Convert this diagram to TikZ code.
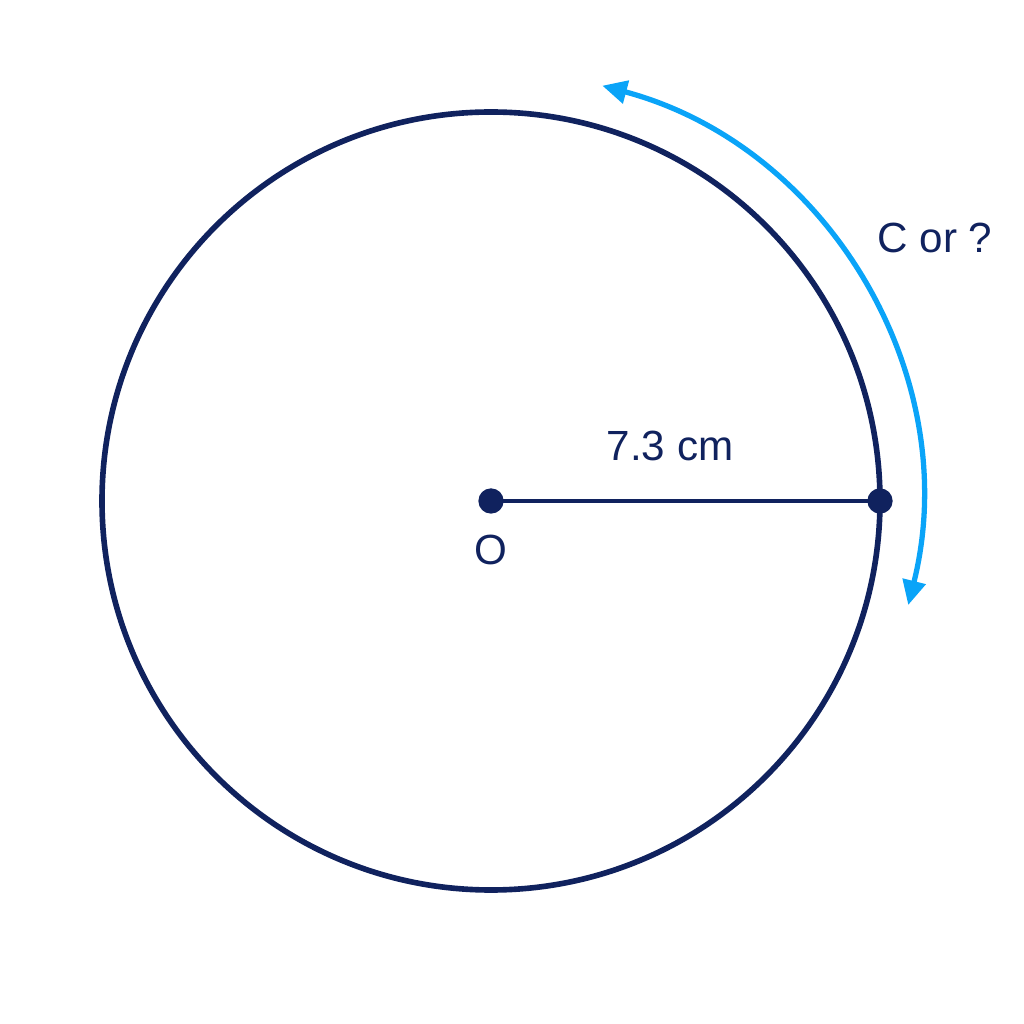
\documentclass[tikz,border=0pt]{standalone}
\usepackage{fontspec}
\setmainfont{Liberation Sans}
\usetikzlibrary{arrows.meta}
\definecolor{navy}{RGB}{16,34,94}
\definecolor{skyblue}{RGB}{10,164,248}
\begin{document}
\begin{tikzpicture}[font=\fontsize{12}{14}\selectfont, line join=round, line cap=round, >={Triangle[length=7pt,width=6.5pt]}]
			\useasboundingbox (0,0) rectangle (10.24,10.24);
			\coordinate (O) at (4.91,5.23);
			\coordinate (A) at (8.80,5.23);
			\draw[navy, line width=1.6pt] (O) circle(3.89);
			\draw[navy, line width=1.4pt] (O)--(A);
			\fill[navy] (O) circle(3.6pt);
			\fill[navy] (A) circle(3.6pt);
			\node[navy] (labO) at (4.91,4.74) {O};
			\node[navy] (labR) at (6.70,5.78) {7.3 cm};
			\draw[skyblue, line width=1.5pt, <->] (6.023,9.383) arc[start angle=75, end angle=-14, radius=4.3];
			\node[navy] (labC) at (9.35,7.86) {C or ?};
		\end{tikzpicture}
\end{document}
